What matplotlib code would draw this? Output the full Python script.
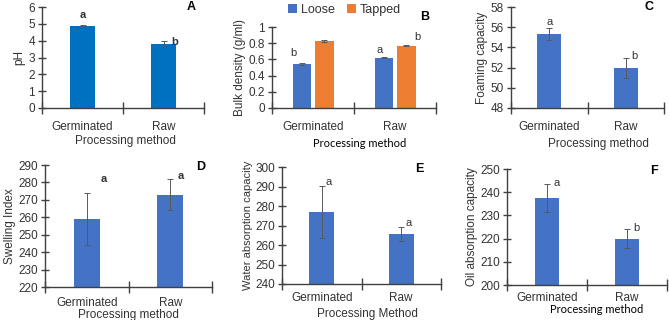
import matplotlib.pyplot as plt

plt.rcParams['font.family'] = ['Liberation Sans', 'DejaVu Sans']

W, H = 669, 320

categories = ['Germinated', 'Raw']

ph = [4.9, 3.8]
ph_err = [0.04, 0.2]
ph_sig = ['a', 'b']

loose = [0.54, 0.62]
loose_err = [0.01, 0.005]
tapped = [0.83, 0.77]
tapped_err = [0.015, 0.005]

foam = [55.3, 52.0]
foam_err = [0.6, 1.0]
foam_sig = ['a', 'b']

swell = [259, 273]
swell_err = [15, 9]
swell_sig = ['a', 'a']

water = [277, 265.5]
water_err = [13.5, 3.5]
water_sig = ['a', 'a']

oil = [237.5, 220]
oil_err = [6, 4]
oil_sig = ['a', 'b']

BLUE = '#4472C4'
BLUE_A = '#0070C0'
ORANGE = '#ED7D31'
AX = '#404040'
ERR = '#595959'
TXT = '#333333'


def make_ax(fig, left, right, top, bottom, pad):
    ax = fig.add_axes([left / W, 1 - bottom / H, (right - left) / W, (bottom - top) / H])
    for s in ['top', 'right']:
        ax.spines[s].set_visible(False)
    for s in ['left', 'bottom']:
        ax.spines[s].set_color(AX)
        ax.spines[s].set_linewidth(1.0)
    ax.set_xlim(0, 2)
    ax.set_xticks([0, 1, 2])
    ax.set_xticklabels([])
    ax.set_xticks([0.5, 1.5], minor=True)
    ax.set_xticklabels(categories, minor=True, fontsize=8.5, color=TXT)
    ax.tick_params(axis='x', which='major', direction='inout', length=8, width=1, color=AX)
    ax.tick_params(axis='x', which='minor', length=0, pad=pad)
    ax.tick_params(axis='y', direction='inout', length=6, width=1, color=AX,
                   labelsize=8.5, labelcolor=TXT, pad=2)
    return ax


fig = plt.figure(figsize=(W / 100, H / 100), dpi=100)
xs = [0.5, 1.5]
ekw = dict(ecolor=ERR, elinewidth=0.7, capsize=2, capthick=0.7)

# A
ax = make_ax(fig, 42, 204, 7, 108, 9)
ax.bar(xs, ph, width=0.31, color=BLUE_A, yerr=ph_err, error_kw=ekw)
ax.set_ylim(0, 6)
ax.set_yticks(range(0, 7))
ax.set_ylabel('pH', fontsize=8.5, labelpad=2, color=TXT)
ax.set_xlabel('Processing method', fontsize=8.5, color=TXT)
ax.xaxis.set_label_coords(0.512, -0.267)
ax.text(0.5, ph[0] + 0.35, ph_sig[0], ha='center', va='bottom', fontsize=8, fontweight='bold', color=TXT)
ax.text(1.6, ph[1] + ph_err[1] - 0.05, ph_sig[1], ha='left', va='center', fontsize=8, fontweight='bold', color=TXT)
ax.text(1.84, 6.0, 'A', ha='center', va='center', fontsize=9, fontweight='bold')

# B
ax = make_ax(fig, 272, 436, 27, 108, 9)
bw = 0.22
ax.bar([x - 0.14 for x in xs], loose, width=bw, color=BLUE, yerr=loose_err, error_kw=ekw, label='Loose')
ax.bar([x + 0.14 for x in xs], tapped, width=bw, color=ORANGE, yerr=tapped_err, error_kw=ekw, label='Tapped')
ax.set_ylim(0, 1)
ax.set_yticks([0, 0.2, 0.4, 0.6, 0.8, 1])
ax.set_yticklabels(['0', '0.2', '0.4', '0.6', '0.8', '1'])
ax.set_ylabel('Bulk density (g/ml)', fontsize=8.5, labelpad=2, color=TXT)
ax.set_xlabel('Processing method', fontsize=8, family=['Lato', 'DejaVu Sans'])
ax.xaxis.set_label_coords(0.537, -0.37)
ax.text(0.22, 0.62, 'b', ha='left', va='bottom', fontsize=8, color=TXT)
ax.text(1.31, 0.66, 'a', ha='center', va='bottom', fontsize=8, color=TXT)
ax.text(1.73, 0.81, 'b', ha='left', va='bottom', fontsize=8, color=TXT)
leg = ax.legend(loc='lower left', bbox_to_anchor=(0.07, 1.08), ncol=2, frameon=False, fontsize=9,
                handlelength=0.7, handleheight=0.7, handletextpad=0.3, columnspacing=1.0, borderaxespad=0)
for t in leg.get_texts():
    t.set_color(TXT)
ax.text(1.86, 1.12, 'B', ha='center', va='center', fontsize=9, fontweight='bold')

# C
ax = make_ax(fig, 511, 664, 7, 108, 9)
ax.bar(xs, foam, width=0.31, color=BLUE, yerr=foam_err, error_kw=ekw)
ax.set_ylim(48, 58)
ax.set_yticks(range(48, 59, 2))
ax.set_ylabel('Foaming capacity', fontsize=8.5, labelpad=2, color=TXT)
ax.set_xlabel('Processing method', fontsize=8.5, color=TXT)
ax.xaxis.set_label_coords(0.569, -0.297)
ax.text(0.5, foam[0] + 0.75, foam_sig[0], ha='center', va='bottom', fontsize=8, color=TXT)
ax.text(1.57, foam[1] + foam_err[1] - 0.3, foam_sig[1], ha='left', va='bottom', fontsize=8, color=TXT)
ax.text(1.8, 58, 'C', ha='center', va='center', fontsize=9, fontweight='bold')

# D
ax = make_ax(fig, 45, 212, 165, 287, 7)
ax.bar(xs, [v - 220 for v in swell], bottom=220, width=0.31, color=BLUE, yerr=swell_err, error_kw=ekw)
ax.set_ylim(220, 290)
ax.set_yticks(range(220, 291, 10))
ax.set_ylabel('Swelling Index', fontsize=8.5, labelpad=2, color=TXT)
ax.set_xlabel('Processing method', fontsize=8.5, color=TXT)
ax.xaxis.set_label_coords(0.497, -0.178)
ax.text(0.7, 282, swell_sig[0], ha='center', va='center', fontsize=8, fontweight='bold', color=TXT)
ax.text(1.59, 283.5, swell_sig[1], ha='left', va='center', fontsize=8, fontweight='bold', color=TXT)
ax.text(1.86, 289, 'D', ha='center', va='center', fontsize=9, fontweight='bold')

# E
ax = make_ax(fig, 282, 441, 167, 284, 6)
ax.bar(xs, [v - 240 for v in water], bottom=240, width=0.31, color=BLUE, yerr=water_err, error_kw=ekw)
ax.set_ylim(240, 300)
ax.set_yticks(range(240, 301, 10))
ax.set_ylabel('Water absorption capacity', fontsize=8, labelpad=2, color=TXT)
ax.set_xlabel('Processing Method', fontsize=8.5, color=TXT)
ax.xaxis.set_label_coords(0.535, -0.205)
ax.text(0.55, water[0] + water_err[0] - 0.5, water_sig[0], ha='left', va='bottom', fontsize=8, color=TXT)
ax.text(1.55, water[1] + water_err[1] - 0.5, water_sig[1], ha='left', va='bottom', fontsize=8, color=TXT)
ax.text(1.73, 299, 'E', ha='center', va='center', fontsize=9, fontweight='bold')

# F
ax = make_ax(fig, 507, 667, 169, 285, 5)
ax.bar(xs, [v - 200 for v in oil], bottom=200, width=0.31, color=BLUE, yerr=oil_err, error_kw=ekw)
ax.set_ylim(200, 250)
ax.set_yticks(range(200, 251, 10))
ax.set_ylabel('Oil absorption capacity', fontsize=8.5, labelpad=2, color=TXT)
ax.set_xlabel('Processing method', fontsize=8, family=['Lato', 'DejaVu Sans'])
ax.xaxis.set_label_coords(0.56, -0.168)
ax.text(0.58, oil[0] + oil_err[0] - 1.5, oil_sig[0], ha='left', va='bottom', fontsize=8, color=TXT)
ax.text(1.58, oil[1] + oil_err[1] - 1.5, oil_sig[1], ha='left', va='bottom', fontsize=8, color=TXT)
ax.text(1.84, 249, 'F', ha='center', va='center', fontsize=9, fontweight='bold')

fig.savefig('out.png', dpi=100)
